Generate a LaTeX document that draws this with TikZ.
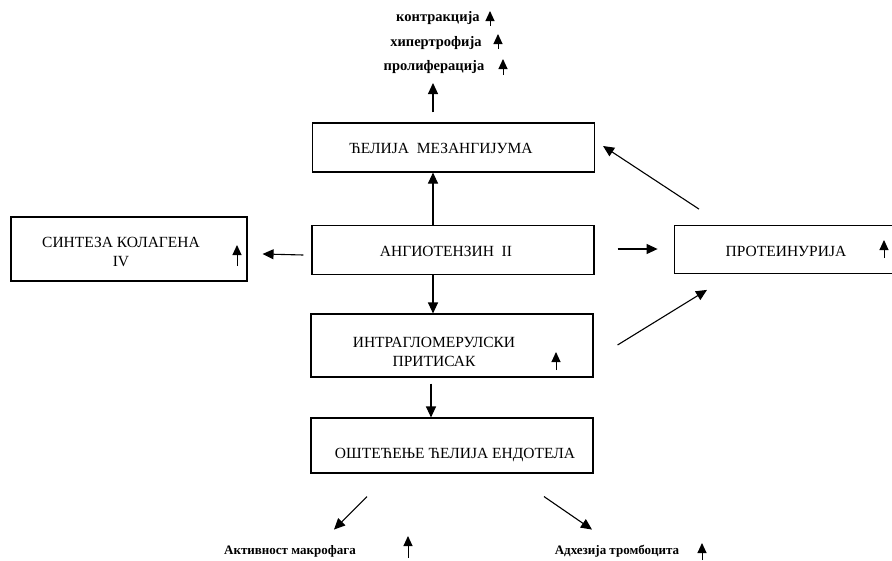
\documentclass[tikz,border=0pt]{standalone}
\usepackage{fontspec}
\setmainfont{Liberation Serif}
\usetikzlibrary{arrows.meta,calc}
\tikzset{
  box/.style={draw, line width=1.1pt, minimum width=282pt, minimum height=49pt, inner sep=0pt},
  boxtext/.style={font=\fontsize{15.5}{19}\selectfont, align=center, inner sep=0pt},
  smalltext/.style={font=\bfseries\fontsize{14.5}{16}\selectfont, inner sep=0pt},
  bottext/.style={font=\bfseries\fontsize{13}{15}\selectfont, inner sep=0pt},
  conn/.style={line width=1.1pt, -{Triangle[width=10pt,length=11pt]}},
  incr/.style={line width=1pt, -{Triangle[width=9pt,length=10pt]}}
}
\begin{document}
\begin{tikzpicture}[x=1pt,y=-1pt]
\useasboundingbox (0,0) rectangle (892,560);
% boxes
\node[box] (mes) at (453.5,147.5) {};
\node[box] (ang) at (453,250) {};
\node[box, minimum width=236pt, minimum height=64pt] (col) at (129,249) {};
\node[box, minimum height=63pt] (itg) at (452,345.5) {};
\node[box, minimum height=55pt] (ost) at (452,445.5) {};
\node[draw, line width=0.8pt, minimum width=230pt, minimum height=48pt, inner sep=0pt] (pro) at (789,249.5) {};
% box texts
\node[boxtext] (tmes) at (441,148) {ЋЕЛИЈА\ \ МЕЗАНГИЈУМА};
\node[boxtext] (tang) at (446,251) {АНГИОТЕНЗИН\ \ II};
\node[boxtext] (tcol) at (121,252) {СИНТЕЗА КОЛАГЕНА\\IV};
\node[boxtext] (titg) at (434,352) {ИНТРАГЛОМЕРУЛСКИ\\ПРИТИСАК};
\node[boxtext] (tost) at (455,455) {ОШТЕЋЕЊЕ ЋЕЛИЈА ЕНДОТЕЛА};
\node[boxtext] (tpro) at (786,251) {ПРОТЕИНУРИЈА};
% free labels
\node[smalltext] (l1) at (438,18) {контракција};
\node[smalltext] (l2) at (436,43) {хипертрофија};
\node[smalltext] (l3) at (434,67) {пролиферација};
\node[bottext] (mac) at (290,551) {Активност макрофага};
\node[bottext] (tro) at (617,551) {Адхезија тромбоцита};
\coordinate (top) at (433,83);
% connectors
\draw[conn] ($(mes.north)+(-20.5,-10)$) -- (top);
\draw[conn] ($(ang.north)+(-20,0)$) -- ($(mes.south)+(-20.5,0)$);
\draw[conn] ($(ang.west)+(-8,5)$) -- ($(col.east)+(15,5)$);
\draw[conn] ($(ang.east)+(23,-1)$) -- ($(pro.west)+(-16,-0.5)$);
\draw[conn] ($(ang.south)+(-20,0)$) -- ($(itg.north)+(-19,0)$);
\draw[conn] ($(itg.east)+(24,-0.5)$) -- ($(pro.south)+(-82,16)$);
\draw[conn] ($(pro.north)+(-90,-16)$) -- ($(mes.east)+(8,-1.5)$);
\draw[conn] ($(itg.south)+(-21,6)$) -- ($(ost.north)+(-21,0)$);
\draw[conn] ($(ost.south)+(-85,23)$) -- ($(ost.south)+(-118,56)$);
\draw[conn] ($(ost.south)+(92,23)$) -- ($(ost.south)+(140,56)$);
% increase markers
\draw[incr] (490,26) -- (490,11);
\draw[incr] (498,49) -- (498,34);
\draw[incr] (503,75) -- (503,59);
\draw[incr] (237,266) -- (237,245);
\draw[incr] (556,370) -- (556,352);
\draw[incr] (884,258) -- (884,240);
\draw[incr] (408,558) -- (408,536);
\draw[incr] (702,560) -- (702,543);
\end{tikzpicture}
\end{document}
